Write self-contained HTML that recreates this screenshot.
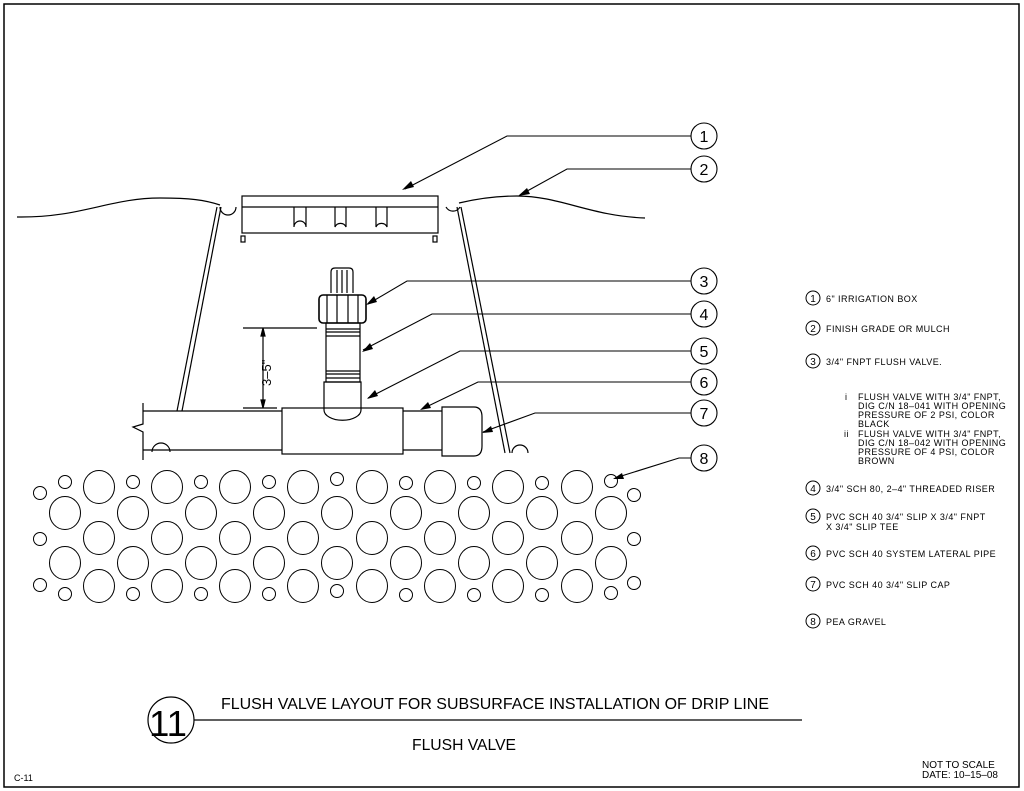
<!DOCTYPE html>
<html><head><meta charset="utf-8"><style>
html,body{margin:0;padding:0;background:#fff;}
svg{display:block;}
text{font-family:"Liberation Sans",sans-serif;fill:#000;}
.l{font-size:9px;letter-spacing:0.45px;}
</style></head><body>
<svg width="1024" height="791" viewBox="0 0 1024 791" xmlns="http://www.w3.org/2000/svg" fill="none" stroke="#000" stroke-width="1.2">
<rect x="4" y="4" width="1015" height="783" stroke-width="1.5"/>
<!-- grade -->
<path d="M17,217 C80,218 110,198 160,198 C190,198 205,200 220,205"/>
<path d="M459,203 C480,198 500,196 517,196 C560,196 590,216 645,218"/>
<!-- box -->
<rect x="242" y="196" width="196" height="37"/>
<line x1="242" y1="207" x2="438" y2="207"/>
<path d="M294,207 V227 A6,6 0 0 1 306,227 V207"/>
<path d="M335,207 V227 A6,6 0 0 1 346,227 V207"/>
<path d="M376,207 V227 A6,6 0 0 1 387,227 V207"/>
<path d="M220,207 A8,8 0 0 0 236,207 M446,207 A8,8 0 0 0 460,207"/>
<rect x="241" y="236" width="4" height="6"/><rect x="433" y="236" width="4" height="6"/>
<!-- walls -->
<line x1="217" y1="207" x2="177" y2="411"/><line x1="221" y1="207" x2="182" y2="411"/>
<line x1="457" y1="207" x2="505" y2="453"/><line x1="461" y1="207" x2="510" y2="453"/>
<!-- valve -->
<path d="M331,293 V272 Q331,268 335,268 H349 Q353,268 353,272 V293"/>
<line x1="337" y1="270" x2="337" y2="293"/><line x1="342" y1="270" x2="342" y2="293"/><line x1="347" y1="270" x2="347" y2="293"/>
<rect x="319" y="295" width="47" height="28" rx="4" stroke-width="1.6"/>
<line x1="327" y1="295" x2="327" y2="323"/><line x1="337" y1="295" x2="337" y2="323"/><line x1="348" y1="295" x2="348" y2="323"/><line x1="358" y1="295" x2="358" y2="323"/>
<rect x="326" y="323" width="34" height="59"/>
<path d="M326,329 H360 M326,332 H360 M326,336 H360 M326,371 H360 M326,374 H360 M326,378 H360"/>
<path d="M324,410 V382 H361 V410 A18,10 0 0 1 324,410"/>
<!-- pipe -->
<line x1="143" y1="411" x2="282" y2="411"/><line x1="143" y1="450" x2="282" y2="450"/>
<line x1="403" y1="411" x2="442" y2="411"/><line x1="403" y1="450" x2="442" y2="450"/>
<path d="M143,403 V424 L133,427 L143,432 V460"/>
<rect x="282" y="408" width="121" height="46"/>
<path d="M442,407 H474 Q482,407 482,417 V446 Q482,456 474,456 H442 Z"/>
<path d="M152,452 A8,8 0 0 1 170,452 M512,453 A8,8 0 0 1 528,453"/>
<!-- dimension -->
<line x1="243" y1="328" x2="317" y2="328"/><line x1="243" y1="408" x2="277" y2="408"/>
<line x1="263" y1="330" x2="263" y2="406"/>
<path d="M263,328 l-2,8 h4 z M263,408 l-2,-8 h4 z" fill="#000"/>
<text x="0" y="0" transform="translate(271,386) rotate(-90)" font-size="13" stroke="none">3–5"</text>
<!-- gravel -->
<g stroke-width="1">
<g id="gA"><ellipse cx="99" cy="487" rx="15.5" ry="16.5"/><ellipse cx="167" cy="487" rx="15.5" ry="16.5"/><ellipse cx="235" cy="487" rx="15.5" ry="16.5"/><ellipse cx="303" cy="487" rx="15.5" ry="16.5"/><ellipse cx="372" cy="487" rx="15.5" ry="16.5"/><ellipse cx="440" cy="487" rx="15.5" ry="16.5"/><ellipse cx="508" cy="487" rx="15.5" ry="16.5"/><ellipse cx="577" cy="487" rx="15.5" ry="16.5"/></g>
<use href="#gA" y="51"/><use href="#gA" y="99"/>
<g id="gB"><ellipse cx="65" cy="513" rx="15.5" ry="16.5"/><ellipse cx="133" cy="513" rx="15.5" ry="16.5"/><ellipse cx="201" cy="513" rx="15.5" ry="16.5"/><ellipse cx="269" cy="513" rx="15.5" ry="16.5"/><ellipse cx="337" cy="513" rx="15.5" ry="16.5"/><ellipse cx="406" cy="513" rx="15.5" ry="16.5"/><ellipse cx="474" cy="513" rx="15.5" ry="16.5"/><ellipse cx="542" cy="513" rx="15.5" ry="16.5"/><ellipse cx="611" cy="513" rx="15.5" ry="16.5"/></g>
<use href="#gB" y="50"/>
<g id="gS"><circle cx="65" cy="482" r="6.5"/><circle cx="133" cy="482" r="6.5"/><circle cx="201" cy="482" r="6.5"/><circle cx="269" cy="482" r="6.5"/><circle cx="337" cy="479" r="6.5"/><circle cx="406" cy="483" r="6.5"/><circle cx="474" cy="483" r="6.5"/><circle cx="542" cy="483" r="6.5"/><circle cx="611" cy="481" r="6.5"/></g>
<use href="#gS" y="112"/>
<circle cx="40" cy="493" r="6.5"/><circle cx="40" cy="539" r="6.5"/><circle cx="40" cy="585" r="6.5"/>
<circle cx="634" cy="495" r="6.5"/><circle cx="634" cy="539" r="6.5"/><circle cx="634" cy="583" r="6.5"/>
</g>
<!-- callouts -->
<g stroke-width="1.1">
<circle cx="704" cy="136" r="13"/><circle cx="704" cy="169" r="13"/><circle cx="704" cy="281" r="13"/><circle cx="704" cy="314" r="13"/><circle cx="704" cy="351" r="13"/><circle cx="704" cy="382" r="13"/><circle cx="704" cy="413" r="13"/><circle cx="704" cy="458" r="13"/>
<polyline points="691,136 507,136 405,189"/>
<polyline points="691,169 567,169 520,195"/>
<polyline points="691,281 407,281 368,304"/>
<polyline points="691,314 432,314 363,350"/>
<polyline points="691,351 460,351 368,398"/>
<polyline points="691,382 478,382 422,409"/>
<polyline points="691,413 535,413 483,432"/>
<polyline points="691,458 679,458 615,478"/>
</g>
<g fill="#000" stroke="none">
<path d="M402,190 l12,-3 l-3,-6 z"/><path d="M518,196 l12,-2 l-3,-6 z"/><path d="M366,305 l11,-3 l-3,-6 z"/><path d="M362,352 l11,-3 l-3,-6 z"/><path d="M367,399 l11,-3 l-3,-6 z"/><path d="M420,410 l11,-2 l-3,-6 z"/><path d="M482,433 l11,-1 l-2,-6 z"/><path d="M613,479 l11,0 l-2,-6 z"/>
</g>
<g font-size="16" stroke="none" text-anchor="middle">
<text x="704" y="142">1</text><text x="704" y="175">2</text><text x="704" y="287">3</text><text x="704" y="320">4</text><text x="704" y="357">5</text><text x="704" y="388">6</text><text x="704" y="419">7</text><text x="704" y="464">8</text>
</g>
<!-- legend -->
<g stroke-width="1">
<circle cx="813" cy="298" r="7"/><circle cx="813" cy="328" r="7"/><circle cx="813" cy="361" r="7"/><circle cx="813" cy="488" r="7"/><circle cx="813" cy="516" r="7"/><circle cx="813" cy="553" r="7"/><circle cx="813" cy="584" r="7"/><circle cx="813" cy="621" r="7"/>
</g>
<g stroke="none">
<g font-size="10" text-anchor="middle"><text x="813" y="302">1</text><text x="813" y="332">2</text><text x="813" y="365">3</text><text x="813" y="492">4</text><text x="813" y="520">5</text><text x="813" y="557">6</text><text x="813" y="588">7</text><text x="813" y="625">8</text></g>
<text class="l" x="826" y="302">6" IRRIGATION BOX</text>
<text class="l" x="826" y="332">FINISH GRADE OR MULCH</text>
<text class="l" x="826" y="365">3/4" FNPT FLUSH VALVE.</text>
<text class="l" x="845" y="400">i</text>
<text class="l" x="858" y="400">FLUSH VALVE WITH 3/4" FNPT,</text>
<text class="l" x="858" y="409">DIG C/N 18–041 WITH OPENING</text>
<text class="l" x="858" y="418">PRESSURE OF 2 PSI, COLOR</text>
<text class="l" x="858" y="427">BLACK</text>
<text class="l" x="844" y="437">ii</text>
<text class="l" x="858" y="437">FLUSH VALVE WITH 3/4" FNPT,</text>
<text class="l" x="858" y="446">DIG C/N 18–042 WITH OPENING</text>
<text class="l" x="858" y="455">PRESSURE OF 4 PSI, COLOR</text>
<text class="l" x="858" y="464">BROWN</text>
<text class="l" x="826" y="492">3/4" SCH 80, 2–4" THREADED RISER</text>
<text class="l" x="826" y="520">PVC SCH 40 3/4" SLIP X 3/4" FNPT</text>
<text class="l" x="826" y="530">X 3/4" SLIP TEE</text>
<text class="l" x="826" y="557">PVC SCH 40 SYSTEM LATERAL PIPE</text>
<text class="l" x="826" y="588">PVC SCH 40 3/4" SLIP CAP</text>
<text class="l" x="826" y="625">PEA GRAVEL</text>
</g>
<!-- title -->
<circle cx="171" cy="720" r="23" stroke-width="1.2"/>
<line x1="194" y1="720" x2="802" y2="720"/>
<g stroke="none">
<text x="168" y="736" font-size="36" text-anchor="middle" textLength="38" lengthAdjust="spacingAndGlyphs">11</text>
<text x="221" y="709" font-size="15.5" textLength="548" lengthAdjust="spacingAndGlyphs">FLUSH VALVE LAYOUT FOR SUBSURFACE INSTALLATION OF DRIP LINE</text>
<text x="412" y="750" font-size="15.5" textLength="104" lengthAdjust="spacingAndGlyphs">FLUSH VALVE</text>
<text x="922" y="768" font-size="10">NOT TO SCALE</text>
<text x="922" y="778" font-size="10">DATE: 10–15–08</text>
<text x="14" y="781" font-size="9">C-11</text>
</g>
</svg>
</body></html>
